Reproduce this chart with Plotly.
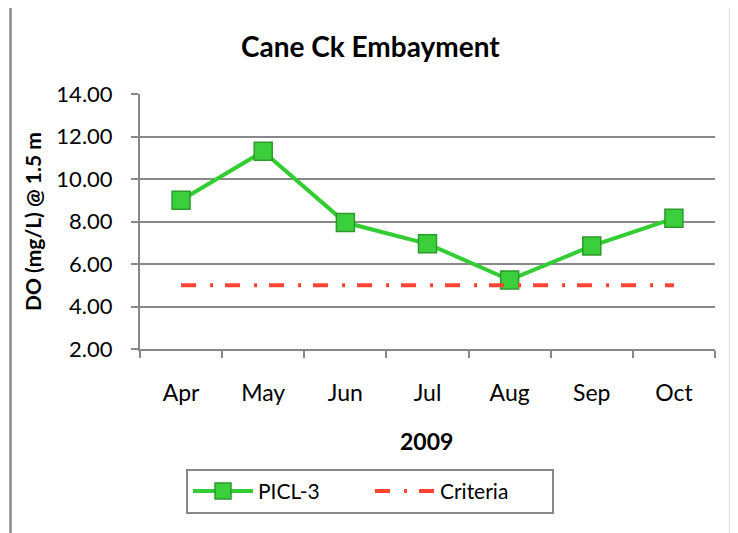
import plotly.graph_objects as go

months = ['Apr', 'May', 'Jun', 'Jul', 'Aug', 'Sep', 'Oct']
picl3 = [9.0, 11.3, 7.95, 6.95, 5.25, 6.85, 8.15]
criteria = [5.0, 5.0, 5.0, 5.0, 5.0, 5.0, 5.0]

font = 'Lato, Open Sans, sans-serif'
grey = '#888888'

fig = go.Figure()
fig.add_trace(go.Scatter(
    x=months, y=picl3, name='PICL-3', mode='lines+markers',
    line=dict(color='#33cc33', width=4),
    marker=dict(symbol='square', size=18, color='#3ccf3c',
                line=dict(color='#2b9a2b', width=1.5))))
fig.add_trace(go.Scatter(
    x=months, y=criteria, name='Criteria', mode='lines',
    line=dict(color='#ff4433', width=4, dash='15px,14px,3px,12px')))

# page body has an 8px margin, so the figure is sized to fit the window
fig.update_layout(
    width=730, height=525,
    margin=dict(l=132, r=23, t=86, b=184),
    paper_bgcolor='white', plot_bgcolor='white',
    font=dict(family=font, color='black', size=22),
    showlegend=True,
    legend=dict(orientation='h', x=0.4, xanchor='center', y=-0.47, yanchor='top',
                bordercolor=grey, borderwidth=2, font=dict(size=21),
                entrywidth=107, itemwidth=60, traceorder='normal'),
    annotations=[
        dict(text='<b>Cane Ck Embayment</b>', xref='paper', yref='paper',
             x=0.4, y=(349 - 46) / 255, xanchor='center', yanchor='middle',
             showarrow=False, font=dict(size=28)),
        dict(text='<b>DO (mg/L) @ 1.5 m</b>', xref='paper', yref='paper',
             x=(32 - 140) / 575, y=0.498, xanchor='center', yanchor='middle',
             textangle=-90, showarrow=False, font=dict(size=21)),
        dict(text='<b>2009</b>', xref='paper', yref='paper',
             x=0.499, y=(349 - 441) / 255, xanchor='center', yanchor='middle',
             showarrow=False, font=dict(size=23)),
    ],
    shapes=[
        dict(type='line', xref='paper', yref='paper',
             x0=(10.5 - 140) / 575, x1=(10.5 - 140) / 575, y0=(349 - 5.5) / 255, y1=-0.8,
             line=dict(color=grey, width=2.5)),
        dict(type='line', xref='paper', yref='paper',
             x0=(731 - 140) / 575, x1=(731 - 140) / 575, y0=(349 - 5.5) / 255, y1=-0.8,
             line=dict(color=grey, width=2.5)),
        dict(type='line', xref='paper', yref='paper',
             x0=(10.5 - 140) / 575, x1=(731 - 140) / 575, y0=(349 - 5.5) / 255, y1=(349 - 5.5) / 255,
             line=dict(color=grey, width=2.5)),
    ],
)

fig.update_xaxes(
    type='category', range=[-0.5, 6.5], showgrid=False,
    showline=True, linecolor=grey, linewidth=2,
    ticks='outside', tickson='boundaries', ticklen=7, tickcolor=grey, tickwidth=2,
    ticklabelstandoff=22, tickfont=dict(size=23))
fig.update_yaxes(
    range=[2, 14], dtick=2, tickformat='.2f',
    showgrid=True, gridcolor=grey, gridwidth=2,
    showline=True, linecolor=grey, linewidth=2, zeroline=False,
    ticks='outside', ticklen=7, tickcolor=grey, tickwidth=2,
    ticklabelstandoff=14, tickfont=dict(size=22))

fig.write_html('out.html')
